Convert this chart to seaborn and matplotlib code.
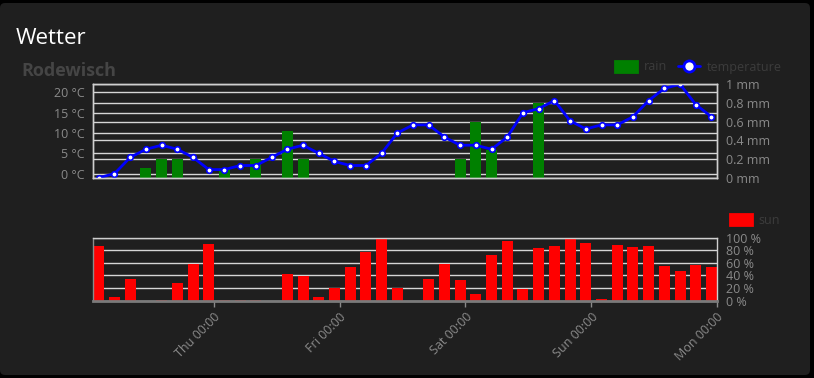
import pandas as pd
import seaborn as sns
import matplotlib.pyplot as plt
import matplotlib.dates as mdates
from matplotlib.patches import FancyBboxPatch, Patch
from matplotlib.lines import Line2D
from matplotlib.transforms import blended_transform_factory

# Estilo
sns.set_theme(style="dark")
plt.rcParams['font.family'] = ['Open Sans', 'DejaVu Sans']

CARD = "#1f1f1f"
GRID = "#d6d6d6"
TICK = "#8a8a8a"

# Datos: pasos de 3 horas, Mi 02:00 .. Do 23:00
times = pd.date_range("2024-01-03 02:00", periods=40, freq="3h")

temperature = [-1, 0, 4, 6, 7, 6, 4, 1, 1, 2, 2, 4, 6, 7, 5, 3, 2, 2, 5, 10,
               12, 12, 9, 7, 7, 6, 9, 15, 16, 18, 13, 11, 12, 12, 14, 18, 21, 22, 17, 14]
rain = [0, 0, 0, 0.1, 0.2, 0.2, 0, 0, 0.1, 0, 0.2, 0, 0.5, 0.2, 0, 0, 0, 0, 0, 0,
        0, 0, 0, 0.2, 0.6, 0.3, 0, 0, 0.8, 0, 0, 0, 0, 0, 0, 0, 0, 0, 0, 0]
sun = [87, 6, 34, 0, 1, 28, 59, 90, 1, 1, 1, 0, 42, 39, 6, 20, 53, 77, 98, 20,
       0, 34, 59, 33, 11, 72, 95, 18, 84, 87, 100, 91, 2, 88, 85, 87, 55, 47, 57, 53]

temp_ticks = [0, 5, 10, 15, 20]
temp_labels = ["0 °C", "5 °C", "10 °C", "15 °C", "20 °C"]
rain_ticks = [0, 0.2, 0.4, 0.6, 0.8, 1]
rain_labels = ["0 mm", "0.2 mm", "0.4 mm", "0.6 mm", "0.8 mm", "1 mm"]
sun_ticks = [0, 20, 40, 60, 80, 100]
sun_labels = ["0 %", "20 %", "40 %", "60 %", "80 %", "100 %"]

xnum = mdates.date2num(times)
x_start = mdates.date2num(pd.Timestamp("2024-01-03 00:57"))
x_end = mdates.date2num(pd.Timestamp("2024-01-08 00:00"))

fig = plt.figure(figsize=(8.14, 3.78), dpi=100)
fig.patch.set_facecolor("black")
card = FancyBboxPatch((0.0, 0.03), 8.10, 3.72,
                      boxstyle="round,pad=0,rounding_size=0.05",
                      transform=fig.dpi_scale_trans, facecolor=CARD,
                      edgecolor="none", zorder=-5)
fig.add_artist(card)

fig.text(16 / 814, 1 - 44 / 378, "Wetter", color="white", fontsize=16, va="baseline")
fig.text(21 / 814, 1 - 76 / 378, "Rodewisch", color="#454545", fontsize=13,
         fontweight="bold", va="baseline")

# --- Grafico superior: lluvia + temperatura
ax_rain = fig.add_axes([0.1146, 0.5299, 0.7659, 0.2471])
ax_rain.set_facecolor(CARD)
sns.barplot(x=xnum, y=rain, native_scale=True, width=0.7, color="#008000",
            saturation=1, linewidth=0, edgecolor="none", ax=ax_rain)
ax_temp = ax_rain.twinx()
sns.lineplot(x=xnum, y=temperature, ax=ax_temp, color="blue", lw=2,
             marker="o", markersize=4, markerfacecolor="white",
             markeredgecolor="blue", markeredgewidth=1.2)

ax_rain.set_ylim(0, 1)
ax_temp.set_ylim(-1, 22)
ax_rain.set_xlim(x_start, x_end)

ax_rain.yaxis.tick_right()
ax_temp.yaxis.tick_left()
ax_rain.set_yticks(rain_ticks, rain_labels)
ax_temp.set_yticks(temp_ticks, temp_labels)

ax_rain.grid(axis="y", color=GRID, lw=1)
ax_rain.grid(axis="x", visible=False)
ax_temp.grid(False)
trans = blended_transform_factory(ax_rain.transAxes, ax_temp.transData)
for v in temp_ticks:
    ax_rain.add_line(Line2D([0, 1], [v, v], transform=trans, color=GRID,
                            lw=1, zorder=0.5))

for a in (ax_rain, ax_temp):
    a.set_xlabel("")
    a.set_ylabel("")
    a.tick_params(axis="x", bottom=False, labelbottom=False)
    a.tick_params(axis="y", length=0, labelsize=9, labelcolor=TICK)
    for s in a.spines.values():
        s.set_color("#cfcfcf")
        s.set_linewidth(1)
ax_rain.tick_params(axis="y", pad=7)
ax_temp.tick_params(axis="y", pad=6)

# --- Grafico inferior: sol
ax_sun = fig.add_axes([0.1146, 0.2045, 0.7659, 0.1667])
ax_sun.set_facecolor(CARD)
sns.barplot(x=xnum, y=sun, native_scale=True, width=0.7, color="#ff0000",
            saturation=1, linewidth=0, edgecolor="none", ax=ax_sun)
ax_sun.set_ylim(0, 100)
ax_sun.set_xlim(x_start, x_end)
ax_sun.yaxis.tick_right()
ax_sun.set_yticks(sun_ticks, sun_labels)
ax_sun.grid(axis="y", color=GRID, lw=1)
ax_sun.grid(axis="x", visible=False)
ax_sun.set_axisbelow(True)
ax_sun.xaxis.set_major_locator(mdates.DayLocator())
ax_sun.xaxis.set_major_formatter(mdates.DateFormatter("%a %H:%M"))
ax_sun.tick_params(axis="y", length=0, labelsize=9, labelcolor=TICK, pad=7)
ax_sun.tick_params(axis="x", bottom=True, direction="out", length=4, width=1,
                   color=TICK, labelsize=9, labelcolor=TICK, pad=3)
for lbl in ax_sun.get_xticklabels():
    lbl.set_rotation(45)
    lbl.set_ha("right")
    lbl.set_rotation_mode("anchor")
ax_sun.set_xlabel("")
ax_sun.set_ylabel("")
for name, s in ax_sun.spines.items():
    s.set_color("#cfcfcf")
    s.set_linewidth(1)
ax_sun.spines["bottom"].set_color("#7a7a7a")
ax_sun.spines["bottom"].set_linewidth(2)
ax_sun.spines["left"].set_color("#8a8a8a")

# Leyendas
rain_handle = Patch(facecolor="#008000", edgecolor="#008000", lw=2,
                    joinstyle="round", label="rain")
temp_handle = Line2D([], [], color="blue", lw=2, marker="o", markersize=8,
                     markerfacecolor="white", markeredgecolor="blue",
                     markeredgewidth=2, label="temperature")
fig.legend(handles=[rain_handle, temp_handle], loc="center right",
           bbox_to_anchor=(0.968, 1 - 67 / 378), ncol=2, frameon=False,
           fontsize=9, labelcolor="#3c3c3c", handlelength=1.8,
           handleheight=1.0, columnspacing=0.9, handletextpad=0.5, borderpad=0)

sun_handle = Patch(facecolor="#ff0000", edgecolor="#ff0000", lw=2,
                   joinstyle="round", label="sun")
fig.legend(handles=[sun_handle], loc="center right",
           bbox_to_anchor=(0.966, 1 - 220 / 378), frameon=False,
           fontsize=9, labelcolor="#3c3c3c", handlelength=1.8,
           handleheight=1.0, handletextpad=0.5, borderpad=0)

fig.savefig("out.png", dpi=100, facecolor=fig.get_facecolor())
